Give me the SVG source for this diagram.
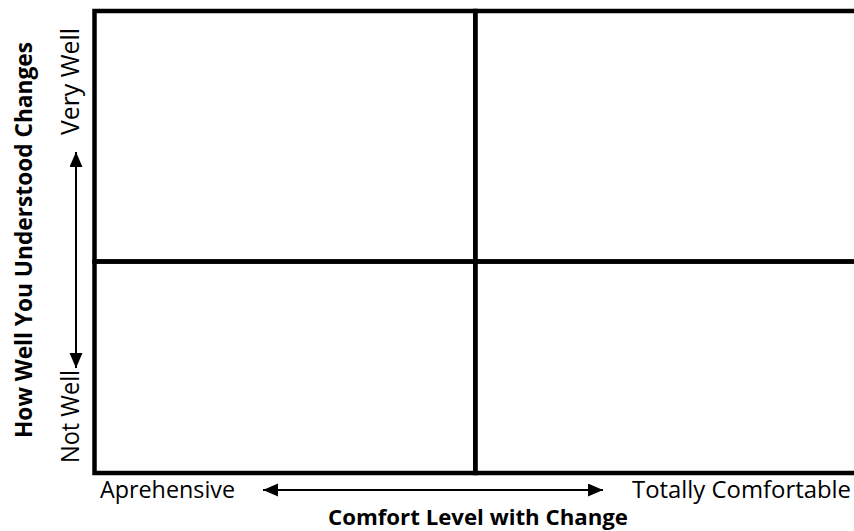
<svg xmlns="http://www.w3.org/2000/svg" width="854" height="531" viewBox="0 0 854 531">
<style>
.grid{fill:none;stroke:#000;stroke-width:4.5}
.lbl{font-family:"Open Sans","Noto Sans","Liberation Sans",sans-serif;font-size:23px;fill:#000}
.ttl{font-family:"Open Sans","Noto Sans","Liberation Sans",sans-serif;font-size:21.5px;font-weight:bold;fill:#000}
.arr{fill:none;stroke:#000;stroke-width:2}
</style>
<defs>
<marker id="ah" markerUnits="userSpaceOnUse" markerWidth="16" markerHeight="14" refX="15" refY="6.5" orient="auto-start-reverse">
<path d="M0,0 L15,6.5 L0,13 Z" fill="#000"/>
</marker>
</defs>
<rect width="854" height="531" fill="#fff"/>
<g id="quadrant-top-left"><rect class="grid" x="94.5" y="11" width="380.8" height="250.5"/></g>
<g id="quadrant-top-right"><rect class="grid" x="475.3" y="11" width="390" height="250.5"/></g>
<g id="quadrant-bottom-left"><rect class="grid" x="94.5" y="261.5" width="380.8" height="211.5"/></g>
<g id="quadrant-bottom-right"><rect class="grid" x="475.3" y="261.5" width="390" height="211.5"/></g>
<g id="x-axis-labels">
<text class="lbl" x="100" y="498" textLength="135" lengthAdjust="spacingAndGlyphs">Aprehensive</text>
<text class="lbl" x="632" y="498" textLength="219" lengthAdjust="spacingAndGlyphs">Totally Comfortable</text>
<text class="ttl" x="328" y="525" textLength="300" lengthAdjust="spacingAndGlyphs">Comfort Level with Change</text>
</g>
<g id="y-axis-labels">
<text class="lbl" transform="translate(79,135) rotate(-90)" textLength="107" lengthAdjust="spacingAndGlyphs" style="font-size:25px">Very Well</text>
<text class="lbl" transform="translate(79,463) rotate(-90)" textLength="93" lengthAdjust="spacingAndGlyphs" style="font-size:25px">Not Well</text>
<text class="ttl" transform="translate(32,438) rotate(-90)" textLength="396" lengthAdjust="spacingAndGlyphs" style="font-size:24px">How Well You Understood Changes</text>
</g>
<g id="connectors">
<line class="arr" x1="76" y1="152" x2="76" y2="368" marker-start="url(#ah)" marker-end="url(#ah)"/>
<line class="arr" x1="263" y1="490" x2="603" y2="490" marker-start="url(#ah)" marker-end="url(#ah)"/>
</g>
</svg>
